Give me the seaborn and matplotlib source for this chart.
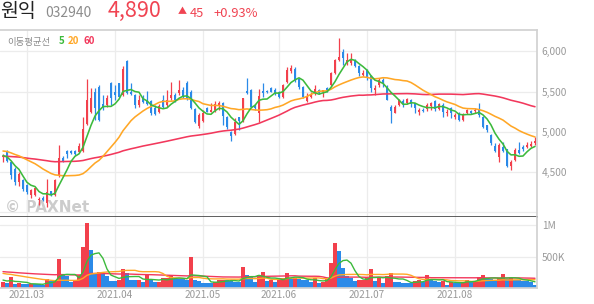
import numpy as np
import pandas as pd
import matplotlib
matplotlib.use("Agg")
import matplotlib.pyplot as plt
import seaborn as sns

# ---------------- data ----------------
month_labels = ["2021.03", "2021.04", "2021.05", "2021.06", "2021.07", "2021.08"]
month_index = [6, 28, 50, 69, 91, 113]

open_ = [4690, 4760, 4630, 4540, 4380, 4400, 4340, 4220, 4210, 4150,
         4180, 4110, 4260, 4210, 4460, 4670, 4760, 4760, 4760, 4750,
         4760, 5100, 5250, 5500, 5560, 5346, 5334, 5603, 5500, 5603,
         5458, 5873, 5500, 5458, 5334, 5437, 5396, 5388, 5292, 5251,
         5396, 5334, 5417, 5458, 5479, 5520, 5612, 5500, 5284, 5072,
         5138, 5292, 5251, 5271, 5334, 5354, 5180, 5001, 4968, 5180,
         5138, 5512, 5520, 5334, 5238, 5508, 5508, 5541, 5520, 5500,
         5437, 5624, 5760, 5778, 5653, 5562, 5384, 5429, 5479, 5520,
         5500, 5550, 5583, 5728, 5894, 5986, 5861, 5853, 5894, 5811,
         5707, 5770, 5690, 5520, 5583, 5645, 5562, 5313, 5238, 5334,
         5388, 5354, 5396, 5354, 5250, 5271, 5280, 5321, 5383, 5280,
         5334, 5230, 5292, 5188, 5230, 5147, 5230, 5259, 5263, 5280,
         5188, 5084, 4960, 4823, 4690, 4814, 4781, 4574, 4648, 4773,
         4814, 4806, 4823, 4856]
high = [4730, 4780, 4640, 4560, 4500, 4420, 4350, 4290, 4310, 4190,
        4200, 4420, 4270, 4410, 4830, 4700, 4770, 4770, 4775, 4860,
        5180, 5660, 5540, 5540, 5580, 5458, 5458, 5624, 5583, 5610,
        5811, 5886, 5603, 5470, 5458, 5458, 5508, 5400, 5334, 5346,
        5458, 5520, 5624, 5479, 5645, 5554, 5630, 5520, 5300, 5230,
        5271, 5305, 5354, 5388, 5388, 5370, 5190, 5010, 5168, 5188,
        5420, 5674, 5530, 5350, 5529, 5603, 5520, 5560, 5541, 5510,
        5590, 5800, 5830, 5800, 5665, 5570, 5479, 5500, 5583, 5530,
        5525, 5560, 5740, 5900, 6164, 6027, 5977, 5977, 5910, 5832,
        5770, 5780, 5700, 5583, 5666, 5666, 5583, 5330, 5334, 5410,
        5404, 5420, 5404, 5360, 5292, 5290, 5363, 5375, 5396, 5360,
        5354, 5280, 5304, 5230, 5240, 5238, 5280, 5265, 5292, 5354,
        5195, 5090, 4972, 4856, 4864, 4877, 4790, 4648, 4794, 4877,
        4835, 4877, 4890, 4931]
low = [4620, 4630, 4420, 4340, 4330, 4260, 4230, 4180, 4200, 4090,
       4140, 4070, 4200, 4200, 4440, 4620, 4670, 4720, 4710, 4740,
       4750, 5090, 5230, 5150, 5130, 5271, 5313, 5334, 5396, 5430,
       5450, 5470, 5458, 5292, 5305, 5354, 5334, 5209, 5209, 5230,
       5292, 5313, 5396, 5375, 5458, 5417, 5400, 5280, 5110, 5050,
       5126, 5240, 5240, 5251, 5271, 5084, 5040, 4889, 4960, 5023,
       5126, 5470, 5300, 5270, 5126, 5437, 5480, 5490, 5458, 5420,
       5420, 5610, 5728, 5620, 5530, 5420, 5375, 5417, 5458, 5470,
       5437, 5490, 5570, 5720, 5880, 5832, 5832, 5832, 5810, 5695,
       5687, 5645, 5500, 5458, 5562, 5562, 5396, 5113, 5230, 5320,
       5313, 5340, 5304, 5230, 5209, 5240, 5263, 5271, 5263, 5270,
       5188, 5196, 5167, 5155, 5140, 5138, 5220, 5220, 5238, 5188,
       5043, 5001, 4835, 4752, 4628, 4752, 4557, 4524, 4640, 4723,
       4765, 4794, 4814, 4835]
close = [4705, 4640, 4460, 4380, 4480, 4290, 4250, 4280, 4300, 4170,
         4150, 4250, 4210, 4400, 4670, 4630, 4725, 4735, 4720, 4820,
         5040, 5400, 5420, 5300, 5150, 5292, 5417, 5417, 5458, 5437,
         5778, 5479, 5471, 5334, 5396, 5375, 5346, 5230, 5221, 5321,
         5313, 5396, 5458, 5396, 5520, 5437, 5417, 5292, 5126, 5209,
         5230, 5251, 5271, 5346, 5363, 5196, 5055, 4947, 5126, 5138,
         5417, 5487, 5313, 5292, 5446, 5487, 5496, 5500, 5479, 5437,
         5583, 5770, 5790, 5645, 5562, 5437, 5437, 5454, 5529, 5479,
         5520, 5500, 5728, 5886, 5927, 5915, 5886, 5886, 5819, 5728,
         5728, 5666, 5541, 5541, 5645, 5612, 5396, 5255, 5313, 5396,
         5346, 5404, 5346, 5292, 5271, 5255, 5334, 5354, 5280, 5346,
         5250, 5250, 5230, 5209, 5147, 5217, 5271, 5230, 5275, 5209,
         5064, 5022, 4856, 4765, 4835, 4765, 4574, 4628, 4773, 4740,
         4781, 4835, 4845, 4890]
volume_k = [100, 84, 179, 70, 75, 63, 58, 70, 62, 58, 45, 148, 110, 126, 458, 200, 190, 100, 126, 200,
            653, 1035, 600, 242, 258, 216, 190, 116, 110, 130, 295, 242, 126, 120, 126, 100, 200, 137, 95, 100,
            153, 158, 190, 150, 140, 135, 130, 485, 126, 116, 84, 80, 78, 100, 126, 130, 120, 110, 100, 95,
            327, 200, 180, 100, 200, 250, 116, 126, 100, 153, 160, 242, 150, 160, 140, 130, 125, 100, 153, 84,
            100, 150, 400, 716, 590, 321, 190, 153, 116, 126, 130, 153, 305, 116, 153, 84, 195, 242, 100, 95,
            84, 80, 78, 116, 120, 100, 205, 126, 116, 100, 116, 47, 100, 84, 80, 100, 126, 100, 116, 179,
            205, 153, 137, 130, 153, 221, 150, 160, 126, 120, 116, 110, 100, 47]

# closes / volumes before the visible window (estimated so the averages start where the picture shows)
prior_close = [4600, 4650, 4580, 4620, 4700, 4680, 4640, 4590, 4560, 4610,
               4650, 4700, 4660, 4620, 4590, 4630, 4670, 4640, 4600, 4660,
               4680, 4720, 4700, 4650, 4690, 4740, 4710, 4660, 4640, 4680,
               4700, 4730, 4690, 4660, 4700, 4720, 4680, 4650, 4690, 4710,
               4760, 4800, 4780, 4820, 4790, 4760, 4740, 4780, 4810, 4830,
               4790, 4770, 4750, 4780, 4740, 4720, 4700, 4690, 4710]
prior_volume_k = [420, 380, 400, 350, 330, 300, 310, 280, 260, 300,
                  270, 250, 260, 240, 280, 250, 230, 260, 240, 250,
                  280, 300, 260, 250, 240, 310, 270, 250, 230, 260,
                  240, 280, 250, 230, 260, 240, 220, 250, 230, 240,
                  300, 280, 320, 260, 290, 250, 270, 240, 260, 230,
                  250, 270, 240, 280, 270, 160, 150, 130, 90]

# ---------------- derived ----------------
n = len(close)
idx = np.arange(n)
o = np.array(open_, float); c = np.array(close, float)
h = np.array(high, float); l = np.array(low, float)
npre = len(prior_close)
c_all = pd.Series(prior_close + close, dtype=float)
ma5 = c_all.rolling(5).mean().iloc[npre:].to_numpy()
ma20 = c_all.rolling(20).mean().iloc[npre:].to_numpy()
ma60 = c_all.rolling(60).mean().iloc[npre:].to_numpy()
v_all = pd.Series(prior_volume_k + volume_k, dtype=float) * 1000
vol = v_all.iloc[npre:].to_numpy()
vma5 = v_all.rolling(5).mean().iloc[npre:].to_numpy()
vma20 = v_all.rolling(20).mean().iloc[npre:].to_numpy()
vma60 = v_all.rolling(60).mean().iloc[npre:].to_numpy()
vdir = np.where(v_all.diff().iloc[npre:].to_numpy() > 0, "up", "down")

RED = "#f2404c"
BLUE = "#2b8ae8"
G5 = "#3cba3c"
O20 = "#ffa726"
R60 = "#f2385c"
HEAD_RED = "#f04452"
GRID = "#ececec"
LABEL = "#999999"

sns.set_theme(style="white")
plt.rcParams["font.family"] = ["Noto Sans CJK KR", "DejaVu Sans"]

W, H = 594, 304
fig = plt.figure(figsize=(W / 100, H / 100), dpi=100)
ax = fig.add_axes([0, 1 - 217 / H, 537 / W, 187 / H])
axv = fig.add_axes([0, 1 - 288 / H, 537 / W, 71 / H])

# ---------------- candles ----------------
cols = np.where(c >= o, RED, BLUE)
ax.vlines(idx, l, h, colors=cols, linewidth=0.9, zorder=2)
body = np.maximum(np.abs(c - o), 12)
ax.bar(idx, body, bottom=np.minimum(o, c), width=0.7, color=cols, linewidth=0, zorder=2)

for y, col in ((ma60, R60), (ma20, O20), (ma5, G5)):
    sns.lineplot(x=idx, y=y, color=col, linewidth=1.15, ax=ax, estimator=None, zorder=3)

# ---------------- volume ----------------
dfv = pd.DataFrame({"i": idx, "v": vol, "d": vdir})
sns.barplot(data=dfv, x="i", y="v", hue="d", palette={"up": RED, "down": BLUE},
            native_scale=True, dodge=False, errorbar=None, width=0.78, legend=False,
            saturation=1, linewidth=0, ax=axv, zorder=2)
for y, col in ((vma60, R60), (vma20, O20), (vma5, G5)):
    sns.lineplot(x=idx, y=y, color=col, linewidth=1.0, ax=axv, estimator=None, zorder=3)

# ---------------- axes styling ----------------
for a in (ax, axv):
    a.set_xlim(-0.75, 133.5)
    a.set_xticks(month_index)
    a.grid(True, color=GRID, linewidth=0.9)
    a.set_axisbelow(True)
    a.set_xlabel("")
    a.set_ylabel("")
    a.yaxis.tick_right()
    a.tick_params(length=0, labelsize=7.3, labelcolor=LABEL, pad=3.4)
    a.spines["left"].set_visible(False)
    a.spines["right"].set_color("#d2d2d2")

ax.set_ylim(3942, 6264)
ax.set_yticks([4000, 4500, 5000, 5500, 6000])
ax.set_yticklabels(["", "4,500", "5,000", "5,500", "6,000"])
ax.set_xticklabels([])
ax.spines["top"].set_color("#d2d2d2")
ax.spines["bottom"].set_color("#444444")
ax.spines["bottom"].set_linewidth(1.2)

axv.set_ylim(0, 1127000)
axv.set_yticks([500000, 1000000])
axv.set_yticklabels(["500K", "1M"])
axv.set_xticklabels(month_labels)
axv.tick_params(axis="x", pad=1.5, labelsize=7.2)
axv.spines["top"].set_visible(False)
axv.spines["bottom"].set_color("#d2d2d2")

# ---------------- texts ----------------
def ft(x, y, s, **kw):
    fig.text(x / W, 1 - y / H, s, **kw)

ft(0, 16.7, "원익", fontsize=14, color="#222222", va="baseline")
ft(45, 16.7, "032940", fontsize=10, color="#8c8c8c", va="baseline")
ft(108, 16.7, "4,890", fontsize=15.5, color=HEAD_RED, va="baseline")
ft(178, 11.7, "▲", fontsize=6.5, color=HEAD_RED, va="center")
ft(190, 16.7, "45", fontsize=9.3, color=HEAD_RED, va="baseline")
ft(213, 16.7, "+0.93%", fontsize=9.3, color=HEAD_RED, va="baseline")

ft(7, 45, "이동평균선", fontsize=6.8, color="#8c8c8c", va="baseline")
ft(59, 44.3, "5", fontsize=7, color=G5, va="baseline", fontweight="bold")
ft(68, 44.3, "20", fontsize=7, color=O20, va="baseline", fontweight="bold")
ft(83, 44.3, "60", fontsize=7, color=R60, va="baseline", fontweight="bold")

ax.text(5 / W, 1 - 211.5 / H, "© PAXNet", transform=fig.transFigure, fontsize=11,
        fontweight="bold", color="#cccccc", va="baseline", zorder=0.5,
        family=["DejaVu Sans"])

fig.savefig("out.png", dpi=100)
